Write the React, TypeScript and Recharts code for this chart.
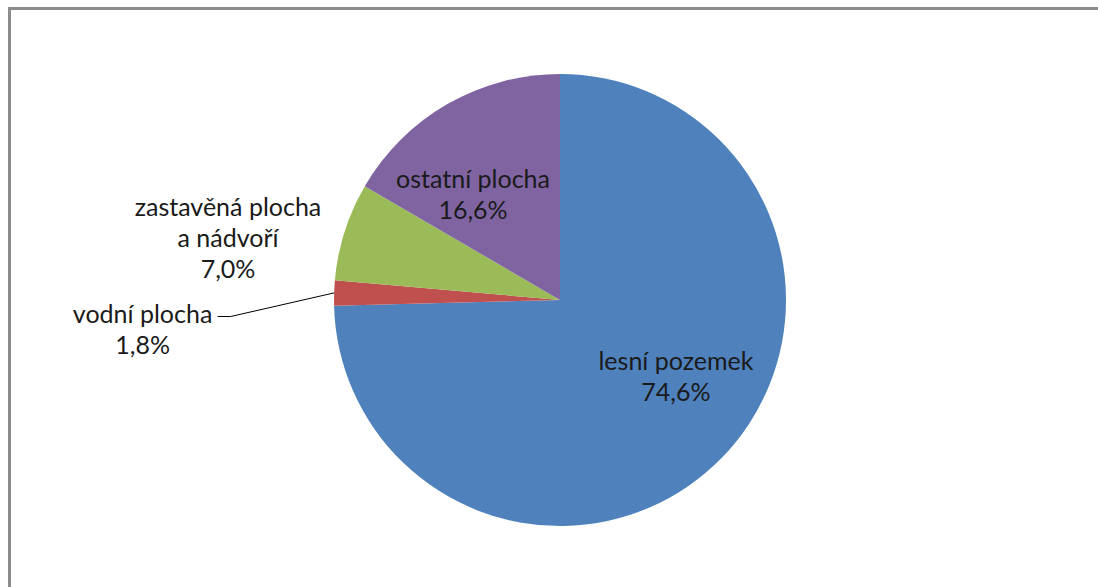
import React, { useEffect } from 'react';
import { PieChart, Pie, Cell } from 'recharts';

const categories = ['lesní pozemek', 'vodní plocha', 'zastavěná plocha a nádvoří', 'ostatní plocha'];
const shares = [74.6, 1.8, 7.0, 16.6];
const labelLines = [
  ['lesní pozemek'],
  ['vodní plocha'],
  ['zastavěná plocha', 'a nádvoří'],
  ['ostatní plocha'],
];

const COLORS = ['#4F81BD', '#C0504D', '#9BBB59', '#8064A2'];
// label block centre, as a fraction of the radius from the pie centre
const LABEL_OFFSET = [
  [0.513, 0.336],
  [-1.847, 0.124],
  [-1.469, -0.279],
  [-0.385, -0.473],
];
const FONT = 'Lato, "Open Sans", sans-serif';
const FONT_SIZE = 25;
const LINE_H = 31;
const RADIAN = Math.PI / 180;

const data = categories.map((name, i) => ({ name, value: shares[i] }));

function renderLabel(props: any) {
  const { cx, cy, outerRadius, midAngle, index, value } = props;
  const [fx, fy] = LABEL_OFFSET[index];
  const x = cx + fx * outerRadius;
  const y = cy + fy * outerRadius;
  const lines = [...labelLines[index], `${value.toFixed(1).replace('.', ',')}%`];
  const top = y - ((lines.length - 1) * LINE_H) / 2;

  let leader = null;
  if (index === 1) {
    const ex = cx + outerRadius * Math.cos(-midAngle * RADIAN);
    const ey = cy + outerRadius * Math.sin(-midAngle * RADIAN);
    const textRight = x + 70;
    leader = (
      <polyline
        points={`${textRight + 5},${top + 4} ${textRight + 18},${top + 4} ${ex},${ey}`}
        fill="none"
        stroke="#000"
        strokeWidth={1}
      />
    );
  }

  return (
    <g key={`lbl-${index}`}>
      {leader}
      {lines.map((t, i) => (
        <text
          key={i}
          x={x}
          y={top + i * LINE_H}
          textAnchor="middle"
          dominantBaseline="central"
          fill="#1a1a1a"
          style={{ fontFamily: FONT, fontSize: FONT_SIZE }}
        >
          {t}
        </text>
      ))}
    </g>
  );
}

export default function App() {
  useEffect(() => {
    document.documentElement.style.overflow = 'hidden';
    document.body.style.margin = '0';
  }, []);

  return (
    <div style={{ position: 'fixed', left: 0, top: 0, width: 1098, height: 587, background: '#fff', overflow: 'hidden' }}>
      <div style={{ position: 'absolute', left: 8, top: 7, width: 1090, height: 3, background: '#8c8c8c' }} />
      <div style={{ position: 'absolute', left: 8, top: 7, width: 3, height: 580, background: '#8c8c8c' }} />
      <div style={{ position: 'absolute', left: 0, top: 0 }}>
        <PieChart width={1098} height={587} margin={{ top: 0, right: 0, bottom: 0, left: 0 }}>
          <Pie
            data={data}
            dataKey="value"
            nameKey="name"
            cx={560}
            cy={300}
            outerRadius={226}
            startAngle={90}
            endAngle={-270}
            stroke="none"
            label={renderLabel}
            labelLine={false}
            isAnimationActive={false}
          >
            {data.map((_, i) => (
              <Cell key={i} fill={COLORS[i]} />
            ))}
          </Pie>
        </PieChart>
      </div>
    </div>
  );
}
